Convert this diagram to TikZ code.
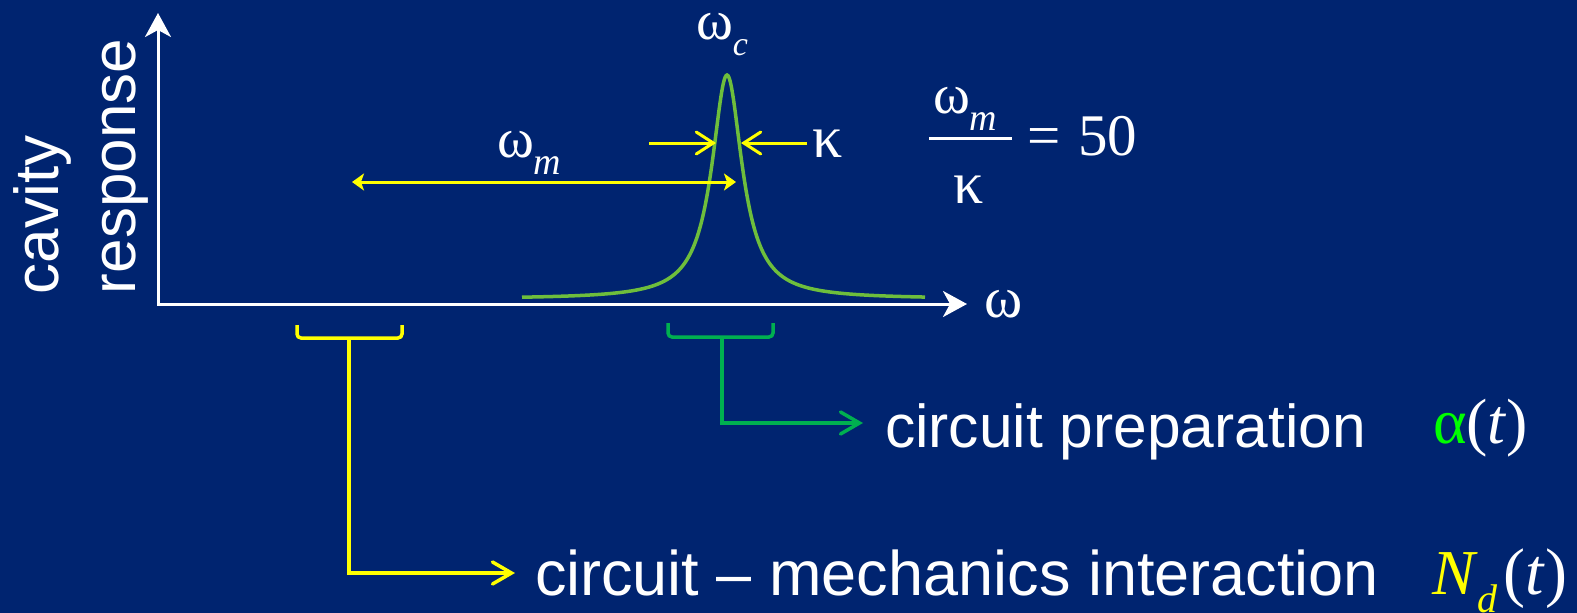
\documentclass[tikz,border=0pt]{standalone}
\usepackage{fontspec}
\setmainfont{Liberation Sans}
\newfontfamily\tms{Liberation Serif}
\usetikzlibrary{arrows.meta}
\definecolor{bg}{RGB}{0,36,112}
\definecolor{ylw}{RGB}{255,255,0}
\definecolor{brgreen}{RGB}{0,176,80}
\definecolor{curvegreen}{RGB}{110,190,60}
\definecolor{agreen}{RGB}{0,255,0}
\newcommand{\fs}[1]{\fontsize{#1}{#1}\selectfont}
\begin{document}
\begin{tikzpicture}[x=1pt,y=-1pt,
  lbl/.style={inner sep=0pt, outer sep=0pt, text=white, anchor=base west},
  axis/.style={draw=white, line width=3pt, {Stealth[length=24pt,width=26pt,inset=7pt]}-{Stealth[length=24pt,width=26pt,inset=7pt]}},
  ywide/.style={draw=ylw, line width=3pt, {Stealth[length=12pt,width=17pt,inset=3pt]}-{Stealth[length=12pt,width=17pt,inset=3pt]}},
  kap/.style={draw=ylw, line width=3pt, -{Straight Barb[length=17pt,width=22pt,line cap=round]}},
  ybr/.style={draw=ylw, line width=3.5pt, rounded corners=4pt},
  gbr/.style={draw=brgreen, line width=3.5pt, rounded corners=4pt},
  yarr/.style={draw=ylw, line width=3.5pt, -{Straight Barb[length=19pt,width=22pt,line cap=round]}},
  garr/.style={draw=brgreen, line width=3.5pt, -{Straight Barb[length=19pt,width=22pt,line cap=round]}},
  curve/.style={draw=curvegreen, line width=3.5pt}]
\fill[bg] (0,0) rectangle (1577,613);
\useasboundingbox (0,0) rectangle (1577,613);

% axes
\coordinate (O) at (158,304);
\coordinate (ytip) at (158,13);
\coordinate (xtip) at (967,304);
\draw[axis] (ytip) -- (O) -- (xtip);

% resonance curve
\draw[curve] plot[domain=522:925, samples=400, smooth] (\x,{299-224/(1+((\x-727)/18.5)^2)});

% axis labels
\node[lbl, rotate=90] (cav) at (58,294) {\fs{62}cavity};
\node[lbl, rotate=90] (resp) at (135,294) {\fs{62}response};
\node[lbl] (wx) at (984,317) {\tms\fs{58}ω};

% omega_c
\node[lbl] (wc) at (696,39) {\tms\fs{56}ω\raisebox{-16pt}{\fs{34}\itshape c}};

% omega_m arrow
\coordinate (wmL) at (352,182);
\coordinate (wmR) at (736,182);
\draw[ywide] (wmL) -- (wmR);
\node[lbl] (wm) at (497,157) {\tms\fs{56}ω\raisebox{-17pt}{\fs{38}\itshape m}};

% kappa arrows
\node[lbl] (kap) at (812,157) {\tms\fs{60}κ};
\coordinate (kL0) at (649,143);
\coordinate (kL) at (716,143);
\coordinate (kR0) at (807,143);
\coordinate (kR) at (741,143);
\draw[kap] (kL0) -- (kL);
\draw[kap] (kR0) -- (kR);

% fraction
\node[lbl] (fnum) at (933,113) {\tms\fs{56}ω\raisebox{-17pt}{\fs{38}\itshape m}};
\coordinate (fl) at (929,138);
\coordinate (fr) at (1012,138);
\draw[white, line width=3pt] (fl) -- (fr);
\node[lbl] (fden) at (953,203) {\tms\fs{60}κ};
\node[lbl] (feq) at (1027,155) {\tms\fs{59}=};
\node[lbl] (f50) at (1078,155) {\tms\fs{59}50};

% brackets
\coordinate (yb1) at (297,325);
\coordinate (yb2) at (297,338);
\coordinate (yb3) at (402,338);
\coordinate (yb4) at (402,325);
\coordinate (ybm) at (349,338);
\coordinate (ycorner) at (349,573);
\coordinate (yend) at (515,573);
\draw[ybr] (yb1) -- (yb2) -- (yb3) -- (yb4);
\draw[yarr] (ybm) -- (ycorner) -- (yend);

\coordinate (gb1) at (668,323);
\coordinate (gb2) at (668,337);
\coordinate (gb3) at (773,337);
\coordinate (gb4) at (773,323);
\coordinate (gbm) at (722,337);
\coordinate (gcorner) at (722,423);
\coordinate (gend) at (863,423);
\draw[gbr] (gb1) -- (gb2) -- (gb3) -- (gb4);
\draw[garr] (gbm) -- (gcorner) -- (gend);

% texts
\node[lbl] (prep) at (885,447) {\fs{60.5}circuit preparation};
\node[lbl] (alpha) at (1433,443) {\tms\fs{64}\textcolor{agreen}{α}(\textit{t})};
\node[lbl] (inter) at (535,595) {\fs{63}circuit – mechanics interaction};
\node[lbl] (nd) at (1432,594) {\tms\fs{64}\textcolor{ylw}{\textit{N}\raisebox{-18pt}{\fs{40}\textit{d}}}\hspace{6pt}{\fs{66}(\textit{t})}};
\end{tikzpicture}
\end{document}
